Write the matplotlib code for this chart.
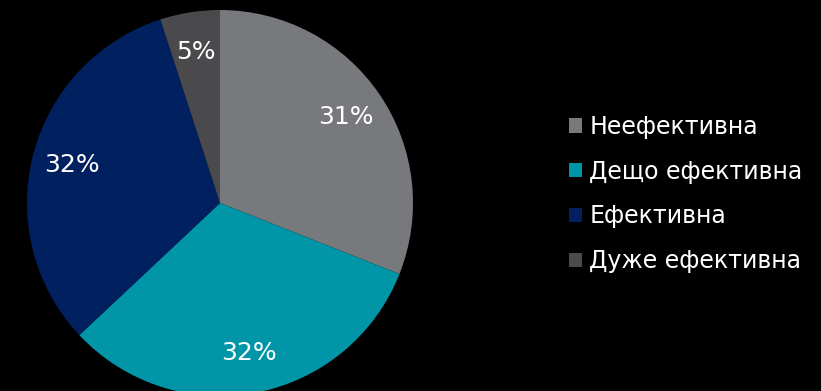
import matplotlib
matplotlib.use("Agg")
import matplotlib.pyplot as plt
from matplotlib.patches import Patch

categories = ["Неефективна", "Дещо ефективна", "Ефективна", "Дуже ефективна"]
values = [31, 32, 32, 5]
colors = ["#77797C", "#0096A8", "#002060", "#4A4A4C"]

plt.rcParams['font.family'] = ['DejaVu Sans']

W, H = 821, 391
fig = plt.figure(figsize=(W / 100, H / 100), dpi=100, facecolor="black")
cx, cy, r = 220, 203, 193
ax = fig.add_axes([(cx - r) / W, (H - cy - r) / H, 2 * r / W, 2 * r / H])
ax.set_facecolor("black")
ax.axis("off")

wedges, texts, autotexts = ax.pie(
    values, colors=colors, startangle=90, counterclock=False, radius=1,
    autopct=lambda p: f"{p:.0f}%", pctdistance=0.79,
    textprops=dict(color="white", fontsize=18),
    wedgeprops=dict(linewidth=0),
)
ax.set_xlim(-1, 1)
ax.set_ylim(-1, 1)
ax.set_aspect("equal")

handles = [Patch(facecolor=c, edgecolor="none") for c in colors]
leg = fig.legend(handles, categories, loc="center left",
                 bbox_to_anchor=(548 / W, 1 - 194 / H), frameon=False,
                 fontsize=17, labelcolor="white", handlelength=0.55,
                 handleheight=0.55, handletextpad=0.3, labelspacing=0.88)

fig.savefig("out.png", dpi=100, facecolor="black")
